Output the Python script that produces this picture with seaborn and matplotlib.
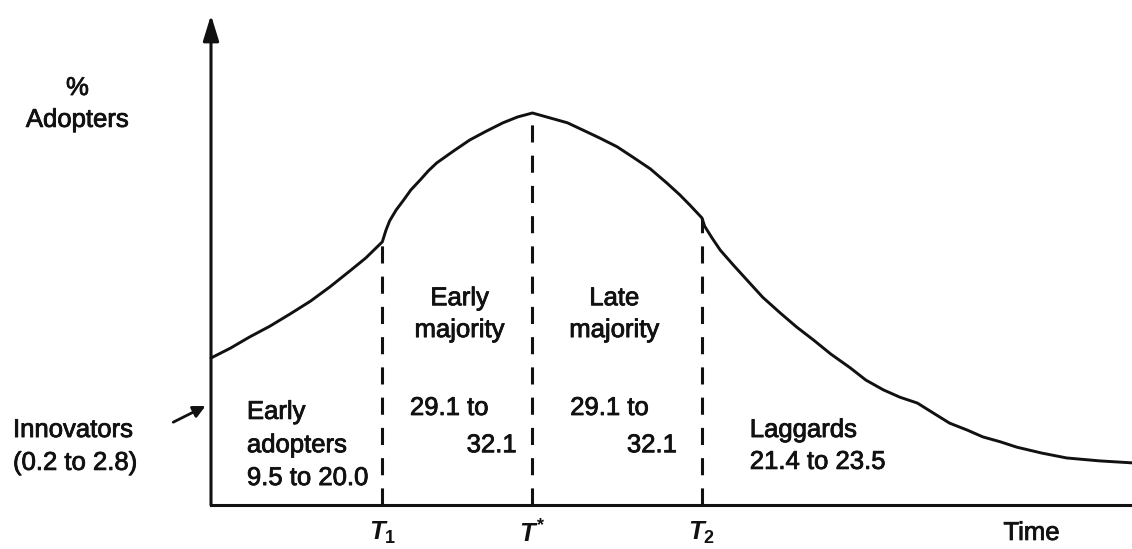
import numpy as np
import matplotlib
matplotlib.use("Agg")
import matplotlib.pyplot as plt
import matplotlib.patheffects as pe
import seaborn as sns

# Adoption curve: time (arbitrary units, 0-100) vs. share of adopters
time = [0.0, 2.1, 4.2, 6.4, 8.6, 10.8, 12.9, 15.1, 16.8, 18.6,
        19.0, 19.4, 20.1, 20.9, 21.7, 22.7, 23.6, 24.5, 26.3, 28.1, 29.9, 31.7, 33.3, 34.9,
        36.8, 38.7, 40.4, 42.2, 44.1, 45.8, 47.7, 49.5, 50.9, 52.0, 53.3,
        53.6, 54.4, 55.3, 56.7, 58.2, 59.9, 61.8, 63.6, 65.4, 67.3, 69.4, 71.1, 73.0,
        74.8, 76.7, 78.4, 80.2, 82.1, 83.8, 85.7, 87.5, 90.2, 92.9, 96.5, 100.0]
adopters = [30.0, 32.0, 34.3, 36.5, 39.0, 41.6, 44.5, 47.8, 50.4, 53.7,
            56.1, 58.0, 60.2, 62.2, 64.3, 66.3, 68.2, 69.8, 72.2, 74.5, 76.3, 78.0, 79.2, 80.0,
            79.0, 78.0, 76.5, 74.9, 73.1, 71.0, 68.6, 65.7, 63.3, 61.2, 58.6,
            56.9, 54.5, 52.0, 49.0, 45.9, 42.4, 39.2, 36.3, 33.7, 30.8, 28.0, 25.5, 23.5,
            22.0, 20.8, 18.8, 16.7, 15.3, 13.9, 12.9, 11.8, 10.6, 9.6, 9.0, 8.6]

# Category boundaries on the time axis
boundaries = [18.6, 34.9, 53.3]
boundary_labels = [r"$\mathit{T}_{1}$", r"$\mathit{T}^{*}$", r"$\mathit{T}_{2}$"]

sns.set_theme(style="white")
plt.rcParams["font.family"] = ["Liberation Sans", "DejaVu Sans"]
plt.rcParams["mathtext.fontset"] = "custom"
plt.rcParams["mathtext.it"] = "Liberation Sans:italic:bold"
plt.rcParams["mathtext.rm"] = "Liberation Sans:bold"

INK = "#111111"
FS = 18.5
HEAVY = [pe.withStroke(linewidth=0.6, foreground=INK)]

W, H = 1132, 549
fig = plt.figure(figsize=(W / 100, H / 100), dpi=100)
ax = fig.add_axes([211 / W, 44 / H, 921 / W, 490 / H])
ax.set_xlim(0, 100)
ax.set_ylim(0, 100)

# Curve
sns.lineplot(x=time, y=adopters, ax=ax, sort=False, color=INK, linewidth=2.1,
             estimator=None, clip_on=False, solid_joinstyle="round",
             solid_capstyle="round")

# Dashed dividers from the curve down to the time axis
heights = np.interp(boundaries, time, adopters)
ax.vlines(boundaries, 0, heights, colors=INK, linewidth=2.2,
          linestyles=(0, (5.6, 4.3)))

# Axes: bottom line plus an arrowed vertical axis
for s in ["top", "right", "left"]:
    ax.spines[s].set_visible(False)
ax.spines["bottom"].set_linewidth(2.2)
ax.spines["bottom"].set_color(INK)
ax.annotate("", xy=(0, 100), xytext=(0, 0), xycoords="data",
            arrowprops=dict(arrowstyle="-|>,head_length=1.3,head_width=0.4",
                            color=INK, lw=2.2, shrinkA=0, shrinkB=0),
            annotation_clip=False)

ax.set_yticks([])
ax.set_xticks(boundaries)
ax.set_xticklabels(boundary_labels, fontsize=FS, color=INK)
ax.tick_params(axis="x", direction="in", length=6, width=2, color=INK, pad=11)

def label(x, y, t, ha="left"):
    ax.text(x, y, t, ha=ha, va="center", fontsize=FS, color=INK,
            clip_on=False, path_effects=HEAVY)

# Axis titles
label(-14.5, 85.1, "%", "center")
label(-14.5, 78.6, "Adopters", "center")
label(89.1, -5.7, "Time", "center")

# Innovators note with arrow to the vertical axis
label(-21.5, 15.3, "Innovators")
label(-21.5, 8.6, "(0.2 to 2.8)")
ax.annotate("", xy=(-0.6, 20.2), xytext=(-4.1, 16.9), xycoords="data",
            arrowprops=dict(arrowstyle="-|>,head_length=0.6,head_width=0.3",
                            color=INK, lw=2.0, shrinkA=0, shrinkB=0),
            annotation_clip=False)

# Category labels
def lines(x, ys, texts, ha):
    for y, t in zip(ys, texts):
        label(x, y, t, ha)

lines(3.9, [19.0, 12.2, 5.5], ["Early", "adopters", "9.5 to 20.0"], "left")
lines(27.0, [42.2, 35.7], ["Early", "majority"], "center")
lines(21.6, [19.8], ["29.1 to"], "left")
lines(33.2, [12.2], ["32.1"], "right")
lines(43.8, [42.2, 35.7], ["Late", "majority"], "center")
lines(39.0, [19.8], ["29.1 to"], "left")
lines(50.6, [12.2], ["32.1"], "right")
lines(58.5, [15.3, 8.8], ["Laggards", "21.4 to 23.5"], "left")

fig.savefig("out.png", dpi=100, facecolor="white")
